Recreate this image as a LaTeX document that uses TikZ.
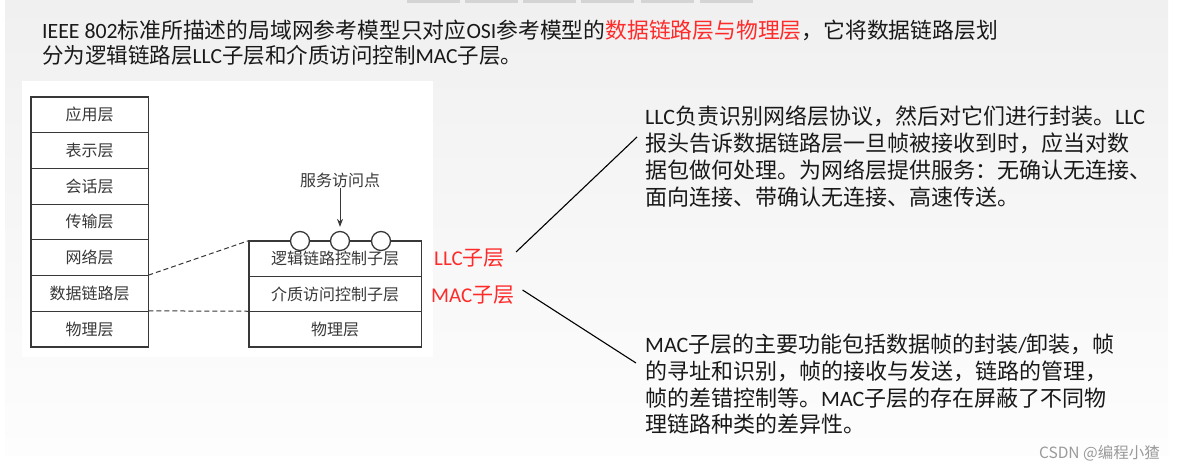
\documentclass[tikz,border=0pt]{standalone}
\usepackage{fontspec}
\setmainfont{Noto Sans CJK SC}
\newfontfamily\lat{Carlito}
\newcommand{\la}[1]{{\lat #1}}
\usetikzlibrary{arrows.meta}
\definecolor{slidetop}{HTML}{F0F0F0}
\definecolor{slidebot}{HTML}{FDFDFD}
\definecolor{tabgray}{HTML}{D4D4D4}
\definecolor{hlred}{HTML}{FF2A2A}
\definecolor{figgray}{HTML}{383838}
\definecolor{wmgray}{HTML}{9A9A9A}
\tikzset{
  layer/.style={draw=figgray, line width=0.7pt, inner sep=0pt, text=figgray,
    font=\fontsize{16}{19}\selectfont},
  leftlayer/.style={layer, minimum width=117pt, minimum height=35.7pt},
  rightlayer/.style={layer, minimum width=172pt, minimum height=35.3pt},
  sap/.style={circle, draw=figgray, fill=white, line width=1.3pt,
    minimum size=19pt, inner sep=0pt},
  figlabel/.style={inner sep=0pt, text=figgray, font=\fontsize{16}{19}\selectfont},
  sublabel/.style={inner sep=0pt, text=hlred, font=\fontsize{21}{25}\selectfont},
  headline/.style={inner sep=0pt, text=black!90, font=\fontsize{21.5}{26}\selectfont},
  para/.style={inner sep=0pt, align=left, text=black!90,
    font=\fontsize{22}{26.7}\selectfont},
  wmtext/.style={inner sep=0pt, text=wmgray, font=\fontsize{15.5}{18}\selectfont},
  pointer/.style={line width=1.1pt, black}
}
\begin{document}
\begin{tikzpicture}[x=1pt, y=-1pt]
  \useasboundingbox (0,0) rectangle (1177,472);
  \fill[white] (0,0) rectangle (1177,472);
  \shade[top color=slidetop, bottom color=slidebot] (5,0) rectangle (1168,455);
  \foreach \x in {407,465,523,581,641,700}
    \fill[tabgray] (\x,0) rectangle ++(53,3);
  \fill[white] (22,81) rectangle (433,357);

  \node[headline, anchor=base west, font=\fontsize{21.8}{26}\selectfont] (h1) at (42,38.3) {\la{IEEE 802}标准所描述的局域网参考模型只对应\la{OSI}参考模型的\textcolor{hlred}{数据链路层与物理层}，它将数据链路层划};
  \node[headline, anchor=base west] (h2) at (42,63) {分为逻辑链路层\la{LLC}子层和介质访问控制\la{MAC}子层。};

  \foreach \t [count=\i] in {应用层,表示层,会话层,传输层,网络层,数据链路层,物理层}
    \node[leftlayer] (l\i) at (89.5,79.15+35.7*\i) {\t};
  \draw[figgray, line width=1.6pt] (l1.north west) rectangle (l7.south east);

  \foreach \t [count=\i] in {逻辑链路控制子层,介质访问控制子层,物理层}
    \node[rightlayer] (r\i) at (335,223.35+35.3*\i) {\t};
  \draw[figgray, line width=1.6pt] (r1.north west) rectangle (r3.south east);

  \foreach \x [count=\i] in {300,340,381}
    \node[sap] (s\i) at (\x,241) {};
  \node[figlabel] (sapname) at (340,180) {服务访问点};
  \draw[figgray, line width=1pt, -{Stealth[length=8pt,width=6pt]}, shorten >=4pt] (sapname) -- (s2);

  \draw[figgray, line width=1pt, dash pattern=on 5pt off 3pt] (l6.north east) -- (r1.north west);
  \draw[figgray, line width=1pt, dash pattern=on 5pt off 3pt] (l7.north east) -- (r3.north west);

  \node[sublabel, anchor=west] (llc) at (434,258) {\la{LLC}子层};
  \node[sublabel, anchor=west] (mac) at (431,295) {\la{MAC}子层};

  \node[para, anchor=north west] (llctext) at (645,106) {\la{LLC}负责识别网络层协议，然后对它们进行封装。\la{LLC}\\
报头告诉数据链路层一旦帧被接收到时，应当对数\\
据包做何处理。为网络层提供服务：无确认无连接、\\
面向连接、带确认无连接、高速传送。};
  \node[para, anchor=north west] (mactext) at (645,334) {\la{MAC}子层的主要功能包括数据帧的封装\la{/}卸装，帧\\
的寻址和识别，帧的接收与发送，链路的管理，\\
帧的差错控制等。\la{MAC}子层的存在屏蔽了不同物\\
理链路种类的差异性。};

  \coordinate (llctip) at (637,137);
  \coordinate (mactip) at (636,363);
  \draw[pointer] ([xshift=11pt,yshift=6pt]llc.east) -- (llctip);
  \draw[pointer] ([xshift=8pt,yshift=5pt]mac.east) -- (mactip);

  \node[wmtext, anchor=east] (wm) at (1160,453) {CSDN @编程小猹};
\end{tikzpicture}
\end{document}
